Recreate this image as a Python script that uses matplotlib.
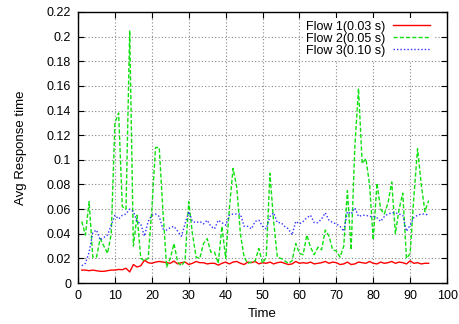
import matplotlib
matplotlib.use("Agg")
import matplotlib.pyplot as plt
from matplotlib.ticker import FuncFormatter, MultipleLocator

time = list(range(1, 96))

flow1 = [0.0105, 0.0105, 0.0100, 0.0105, 0.0100, 0.0095, 0.0095, 0.0100, 0.0105, 0.0105,
         0.0110, 0.0108, 0.0120, 0.0090, 0.0150, 0.0130, 0.0140, 0.0185, 0.0165, 0.0160,
         0.0170, 0.0175, 0.0170, 0.0165, 0.0160, 0.0178, 0.0155, 0.0165, 0.0170, 0.0150,
         0.0160, 0.0175, 0.0165, 0.0165, 0.0155, 0.0160, 0.0160, 0.0145, 0.0160, 0.0170,
         0.0155, 0.0170, 0.0175, 0.0160, 0.0150, 0.0170, 0.0165, 0.0175, 0.0155, 0.0165,
         0.0160, 0.0170, 0.0155, 0.0165, 0.0170, 0.0160, 0.0150, 0.0155, 0.0175, 0.0160,
         0.0165, 0.0160, 0.0170, 0.0155, 0.0160, 0.0165, 0.0175, 0.0160, 0.0170, 0.0165,
         0.0150, 0.0155, 0.0170, 0.0150, 0.0155, 0.0170, 0.0165, 0.0160, 0.0175, 0.0160,
         0.0155, 0.0170, 0.0160, 0.0165, 0.0175, 0.0160, 0.0170, 0.0165, 0.0155, 0.0180,
         0.0160, 0.0165, 0.0155, 0.0160, 0.0160]

flow2 = [0.050, 0.039, 0.066, 0.021, 0.021, 0.036, 0.030, 0.024, 0.040, 0.130,
         0.138, 0.062, 0.060, 0.205, 0.030, 0.055, 0.020, 0.018, 0.020, 0.060,
         0.110, 0.110, 0.059, 0.013, 0.020, 0.032, 0.017, 0.014, 0.018, 0.066,
         0.040, 0.021, 0.020, 0.032, 0.036, 0.025, 0.025, 0.016, 0.046, 0.020,
         0.060, 0.093, 0.078, 0.040, 0.021, 0.016, 0.017, 0.018, 0.028, 0.016,
         0.021, 0.089, 0.050, 0.021, 0.020, 0.018, 0.016, 0.018, 0.032, 0.024,
         0.023, 0.039, 0.029, 0.023, 0.029, 0.027, 0.043, 0.038, 0.027, 0.026,
         0.021, 0.030, 0.075, 0.027, 0.110, 0.158, 0.097, 0.101, 0.080, 0.035,
         0.081, 0.060, 0.056, 0.065, 0.082, 0.040, 0.060, 0.073, 0.020, 0.024,
         0.070, 0.109, 0.080, 0.058, 0.067]

flow3 = [0.014, 0.016, 0.025, 0.041, 0.043, 0.035, 0.037, 0.039, 0.047, 0.055,
         0.052, 0.055, 0.056, 0.060, 0.058, 0.050, 0.048, 0.038, 0.050, 0.055,
         0.056, 0.054, 0.044, 0.043, 0.045, 0.046, 0.042, 0.038, 0.048, 0.058,
         0.050, 0.049, 0.050, 0.048, 0.051, 0.046, 0.044, 0.051, 0.049, 0.047,
         0.055, 0.056, 0.056, 0.056, 0.046, 0.046, 0.044, 0.050, 0.051, 0.046,
         0.044, 0.054, 0.057, 0.049, 0.049, 0.046, 0.044, 0.039, 0.050, 0.048,
         0.050, 0.053, 0.055, 0.049, 0.049, 0.052, 0.057, 0.051, 0.049, 0.048,
         0.046, 0.042, 0.058, 0.056, 0.061, 0.054, 0.055, 0.055, 0.054, 0.054,
         0.053, 0.050, 0.054, 0.056, 0.057, 0.057, 0.056, 0.055, 0.042, 0.047,
         0.053, 0.055, 0.056, 0.056, 0.055]

labels = ["Flow 1(0.03 s)", "Flow 2(0.05 s)", "Flow 3(0.10 s)"]

plt.rcParams['font.family'] = ['Liberation Sans', 'DejaVu Sans']

fig = plt.figure(figsize=(4.59, 3.24), dpi=100)
ax = fig.add_axes([0.170, 0.1265, 0.804, 0.8365])

ax.plot(time, flow1, color='#ff0000', lw=1.0, linestyle='-', label=labels[0])
ax.plot(time, flow2, color='#10e010', lw=1.0, linestyle=(0, (3, 1.5)), label=labels[1])
ax.plot(time, flow3, color='#3030ff', lw=1.0, linestyle=(0, (1, 1.5)), label=labels[2])

ax.set_xlim(0, 100)
ax.set_ylim(0, 0.22)
ax.xaxis.set_major_locator(MultipleLocator(10))
ax.yaxis.set_major_locator(MultipleLocator(0.02))
ax.yaxis.set_major_formatter(FuncFormatter(lambda v, p: f"{v:g}" if abs(v) > 1e-9 else "0"))

ax.grid(True, color='#888888', linestyle=(0, (1, 2)), linewidth=0.8)
ax.set_axisbelow(True)
ax.tick_params(direction='in', top=True, right=True, length=4, width=0.8,
               labelsize=9, pad=5)
for s in ax.spines.values():
    s.set_linewidth(1.0)

ax.set_xlabel("Time", fontsize=9.5, labelpad=4)
ax.set_ylabel("Avg Response time", fontsize=9.5, labelpad=14)

leg = ax.legend(loc='upper right', bbox_to_anchor=(0.978, 1.0), frameon=True,
                fontsize=9, markerfirst=False,
                handlelength=3.0, handletextpad=0.6, labelspacing=0.0,
                borderaxespad=0.45, borderpad=0.25, fancybox=False)
leg.get_frame().set_edgecolor('none')
leg.get_frame().set_facecolor('white')
leg.get_frame().set_alpha(1.0)

fig.savefig("out.png", dpi=100)
